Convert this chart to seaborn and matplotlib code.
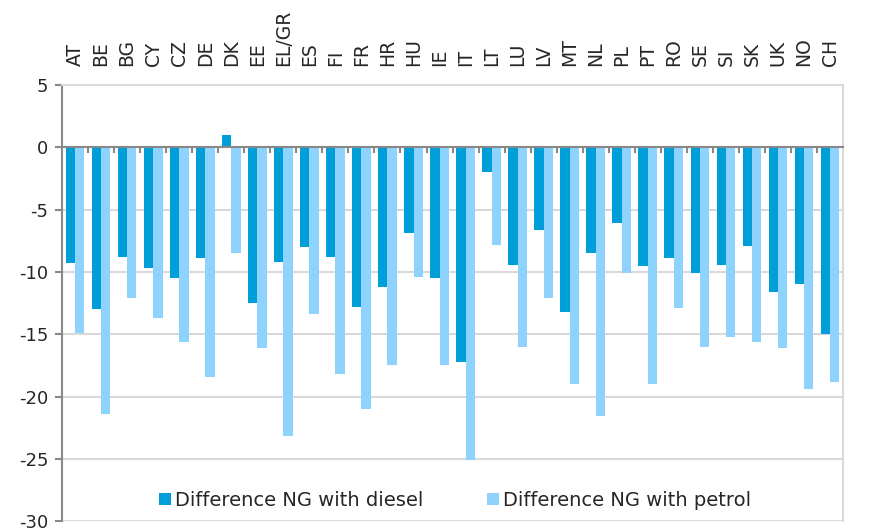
import matplotlib
matplotlib.use("Agg")
import matplotlib.pyplot as plt
import numpy as np
import pandas as pd
import seaborn as sns
from matplotlib.ticker import FixedLocator, MultipleLocator

countries = ["AT", "BE", "BG", "CY", "CZ", "DE", "DK", "EE", "EL/GR", "ES",
             "FI", "FR", "HR", "HU", "IE", "IT", "LT", "LU", "LV", "MT",
             "NL", "PL", "PT", "RO", "SE", "SI", "SK", "UK", "NO", "CH"]
diesel = [-9.3, -13.0, -8.8, -9.7, -10.5, -8.9, 1.0, -12.5, -9.2, -8.0,
          -8.8, -12.8, -11.2, -6.9, -10.5, -17.2, -2.0, -9.4, -6.6, -13.2,
          -8.5, -6.1, -9.5, -8.9, -10.1, -9.4, -7.9, -11.6, -11.0, -15.0]
petrol = [-14.9, -21.4, -12.1, -13.7, -15.6, -18.4, -8.5, -16.1, -23.2, -13.4,
          -18.2, -21.0, -17.5, -10.4, -17.5, -25.1, -7.8, -16.0, -12.1, -19.0,
          -21.6, -10.1, -19.0, -12.9, -16.0, -15.2, -15.6, -16.1, -19.4, -18.8]
series_names = ["Difference NG with diesel", "Difference NG with petrol"]
colors = ["#009ED8", "#8ED3FE"]

df = pd.DataFrame({
    "country": countries * 2,
    "value": diesel + petrol,
    "series": [series_names[0]] * len(countries) + [series_names[1]] * len(countries),
})

sns.set_style("white")
plt.rcParams["font.family"] = ["DejaVu Sans"]
plt.rcParams["axes.unicode_minus"] = False

fig = plt.figure(figsize=(8.95, 5.29), dpi=100)
ax = fig.add_axes([0.0693, 0.015, 0.8727, 0.824])

sns.barplot(data=df, x="country", y="value", hue="series", palette=colors,
            width=0.72, gap=0, ax=ax, saturation=1, linewidth=0, zorder=3)

ax.set_ylim(-30, 5)
ax.set_xlim(-0.5, len(countries) - 0.5)
ax.yaxis.set_major_locator(MultipleLocator(5))
ax.grid(axis="y", color="#D9D9D9", linewidth=1.5, zorder=0)
ax.set_xlabel("")
ax.set_ylabel("")

for side in ["top", "right"]:
    ax.spines[side].set_color("#D9D9D9")
    ax.spines[side].set_linewidth(1.5)
ax.spines["left"].set_color("#888888")
ax.spines["left"].set_linewidth(1.5)
ax.spines["bottom"].set_position(("data", 0))
ax.spines["bottom"].set_color("#888888")
ax.spines["bottom"].set_linewidth(1.5)
ax.spines["bottom"].set_zorder(4)

# small marks on the zero line between the countries
ax.xaxis.set_minor_locator(FixedLocator(np.arange(0.5, len(countries) - 1, 1.0)))
ax.tick_params(axis="x", which="major", bottom=False, top=False,
               labelbottom=False, labeltop=True, labelrotation=90,
               labelsize=13.5, pad=10)
ax.tick_params(axis="x", which="minor", bottom=True, direction="out",
               length=4, width=1.5, color="#888888")
ax.tick_params(axis="y", left=True, direction="out", length=5, width=1.5,
               color="#888888", labelsize=13, pad=5)

handles, labels = ax.get_legend_handles_labels()
ax.legend(handles, labels, loc="center", bbox_to_anchor=(0.503, 0.048),
          ncol=2, frameon=False, fontsize=14, handlelength=0.6,
          handleheight=0.6, handletextpad=0.2, columnspacing=3.3)

fig.savefig("out.png", dpi=100)
